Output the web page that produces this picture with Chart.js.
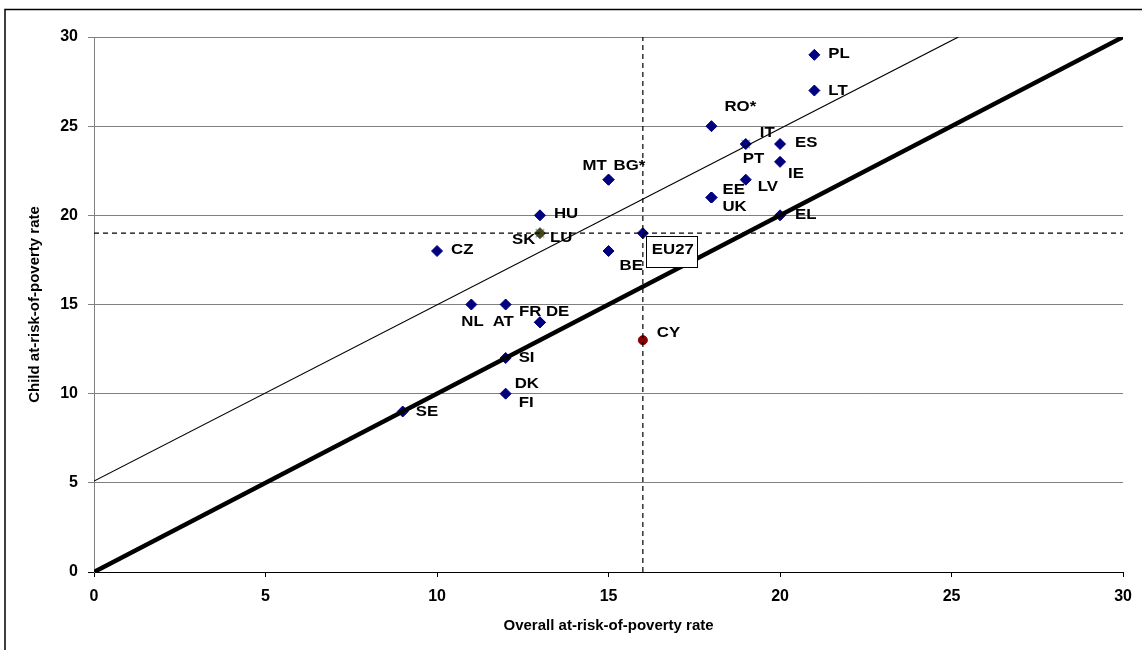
<!DOCTYPE html>
<html>
<head>
<meta charset="utf-8">
<script src="https://cdn.jsdelivr.net/npm/chart.js@4/dist/chart.umd.min.js"></script>
<style>
html,body{margin:0;padding:0;background:#fff;}
#wrap{width:1142px;height:650px;position:relative;}
</style>
</head>
<body>
<div id="wrap"><canvas id="c" width="1142" height="650"></canvas></div>
<script>
// ---------- DATA ----------
const countryCodes = ['PL','LT','RO*','IT','PT','ES','IE','LV','EE','UK','EL','MT','BG*','HU','SK','LU','CZ','BE','NL','AT','FR','DE','SI','DK','FI','SE','CY','EU27'];
const overallRate  = [21, 21, 18, 19, 19, 20, 20, 19, 18, 18, 20, 15, 15, 13, 13, 13, 10, 15, 11, 12, 13, 13, 12, 12, 12,  9, 16, 16];
const childRate    = [29, 27, 25, 24, 24, 24, 23, 22, 21, 21, 20, 22, 22, 20, 19, 19, 18, 18, 15, 15, 14, 14, 12, 10, 10,  9, 13, 19];

const xTickValues = [0, 5, 10, 15, 20, 25, 30];
const yTickValues = [0, 5, 10, 15, 20, 25, 30];

const parityLineX = [0, 30];
const parityLineY = [0, 30];
const upperLineX  = [0, 25.2];
const upperLineY  = [5.1, 30];
const euOverallLineX = [16, 16];
const euOverallLineY = [0, 30];
const euChildLineX = [0, 30];
const euChildLineY = [19, 19];

const xTitle = 'Overall at-risk-of-poverty rate';
const yTitle = 'Child at-risk-of-poverty rate';

// ---------- STYLE ----------
const NAVY = '#000080';
const markerGroups = [
  {codes:['FI'], style:'triangle', color:'#ffff00', radius:5, order:5},
  {codes:['PT','LU'], style:'crossRot', color:'#8fb4f0', radius:6, order:4},
  {codes:['SK'], style:'rectRot', color:'#45451a', radius:5.5, order:3},
  {codes:['CY'], style:'circle', color:'#8b0000', radius:4.5, order:2},
  {codes:['PL','LT','RO*','IT','ES','IE','LV','EE','UK','EL','MT','BG*','HU','CZ','BE','NL','AT','FR','DE','SI','DK','SE','EU27'], style:'rectRot', color:NAVY, radius:5.5, order:1}
];
// label offsets in px from the point: [dx (left edge), dy (middle)]
const labelOffsets = {
  'PL':[14,-1], 'LT':[14,0], 'RO*':[13,-19], 'IT':[14,-11], 'PT':[-3,15], 'ES':[15,-1],
  'IE':[8,12], 'LV':[12,7], 'EE':[11,-8], 'UK':[11,9], 'EL':[15,0], 'MT':[-26,-14],
  'BG*':[5,-14], 'HU':[14,-1], 'SK':[-28,7], 'LU':[10,5], 'CZ':[14,-1], 'BE':[11,15],
  'NL':[-10,17], 'AT':[-13,17], 'FR':[-21,-10], 'DE':[6,-10], 'SI':[13,0], 'DK':[9,-10],
  'FI':[13,9], 'SE':[13,0], 'CY':[14,-7]
};
const boxedLabel = {code:'EU27', box:[3,3,51,31], textCenter:[30,17]};

const FONT = "'Liberation Sans', Arial, sans-serif";

function pts(xs, ys){ return xs.map((x,i)=>({x:x, y:ys[i]})); }

const datasets = [];
datasets.push({label:'parity', data:pts(parityLineX, parityLineY), showLine:true, borderColor:'#000', borderWidth:4.5, pointRadius:0, order:0});
datasets.push({label:'upper', data:pts(upperLineX, upperLineY), showLine:true, borderColor:'#000', borderWidth:1.2, pointRadius:0, order:0});
datasets.push({label:'euV', data:pts(euOverallLineX, euOverallLineY), showLine:true, borderColor:'#000', borderWidth:1.2, borderDash:[5,4], pointRadius:0, order:0});
datasets.push({label:'euH', data:pts(euChildLineX, euChildLineY), showLine:true, borderColor:'#000', borderWidth:1.2, borderDash:[5,4], pointRadius:0, order:0});
markerGroups.forEach(g=>{
  const d = [];
  countryCodes.forEach((c,i)=>{ if(g.codes.includes(c)) d.push({x:overallRate[i], y:childRate[i], code:c}); });
  datasets.push({label:g.codes.join(','), data:d, showLine:false, pointStyle:g.style, pointRadius:g.radius,
    pointBackgroundColor:g.color, pointBorderColor:g.color, pointBorderWidth:g.style==='crossRot'?1.5:1, order:g.order});
});

const labelPlugin = {
  id:'pointLabels',
  afterDatasetsDraw(chart){
    const ctx = chart.ctx, xs = chart.scales.x, ys = chart.scales.y;
    ctx.save();
    ctx.fillStyle = '#000';
    ctx.font = 'bold 15px ' + FONT;
    ctx.textBaseline = 'middle';
    ctx.textAlign = 'left';
    countryCodes.forEach((c,i)=>{
      const off = labelOffsets[c];
      if(!off) return;
      const px = xs.getPixelForValue(overallRate[i]);
      const py = ys.getPixelForValue(childRate[i]);
      ctx.save();
      ctx.translate(px+off[0], py+off[1]);
      ctx.scale(1.12,1);
      ctx.fillText(c, 0, 0);
      ctx.restore();
    });
    const bi = countryCodes.indexOf(boxedLabel.code);
    const bx = xs.getPixelForValue(overallRate[bi]);
    const by = ys.getPixelForValue(childRate[bi]);
    const b = boxedLabel.box;
    ctx.fillStyle = '#fff';
    ctx.fillRect(Math.round(bx+b[0])+0.5, Math.round(by+b[1])+0.5, b[2], b[3]);
    ctx.strokeStyle = '#000'; ctx.lineWidth = 1;
    ctx.strokeRect(Math.round(bx+b[0])+0.5, Math.round(by+b[1])+0.5, b[2], b[3]);
    ctx.fillStyle = '#000';
    ctx.textAlign = 'center';
    ctx.save();
    ctx.translate(bx+boxedLabel.textCenter[0], by+boxedLabel.textCenter[1]);
    ctx.scale(1.12,1);
    ctx.fillText(boxedLabel.code, 0, 0);
    ctx.restore();
    ctx.restore();
  }
};

const framePlugin = {
  id:'frame',
  beforeDraw(chart){
    const ctx = chart.ctx;
    ctx.save(); ctx.fillStyle = '#fff'; ctx.fillRect(0,0,chart.width,chart.height); ctx.restore();
  },
  afterDraw(chart){
    const ctx = chart.ctx;
    ctx.save();
    ctx.strokeStyle = '#000'; ctx.lineWidth = 1.5;
    ctx.beginPath();
    ctx.moveTo(5, chart.height+2); ctx.lineTo(5, 9.5); ctx.lineTo(chart.width+2, 9.5);
    ctx.stroke();
    ctx.restore();
  }
};

new Chart(document.getElementById('c'), {
  type:'scatter',
  data:{datasets:datasets},
  plugins:[framePlugin, labelPlugin],
  options:{
    responsive:false,
    animation:false,
    devicePixelRatio:1,
    layout:{padding:{left:0, right:18, top:37, bottom:0}},
    plugins:{legend:{display:false}, tooltip:{enabled:false}},
    scales:{
      x:{
        type:'linear', min:0, max:30,
        afterBuildTicks(s){ s.ticks = xTickValues.map(v=>({value:v})); },
        afterFit(s){ s.height = 78; },
        grid:{drawOnChartArea:false, drawTicks:true, tickLength:5, color:'#000'},
        border:{color:'#000', width:1},
        ticks:{color:'#000', padding:10, maxRotation:0, font:{family:FONT, size:16, weight:'bold'}},
        title:{display:true, text:xTitle, color:'#000', padding:{top:0, bottom:15}, font:{family:FONT, size:15, weight:'bold'}}
      },
      y:{
        type:'linear', min:0, max:30,
        afterBuildTicks(s){ s.ticks = yTickValues.map(v=>({value:v})); },
        afterFit(s){ s.width = 94; },
        grid:{drawOnChartArea:true, drawTicks:true, tickLength:6,
              color:(c)=> (c.tick && c.tick.value===0) ? '#000' : '#808080', lineWidth:1},
        border:{color:'#808080', width:1},
        ticks:{color:'#000', padding:10, font:{family:FONT, size:16, weight:'bold'}},
        title:{display:true, text:yTitle, color:'#000', padding:{top:26, bottom:0}, font:{family:FONT, size:15, weight:'bold'}}
      }
    }
  }
});
</script>
</body>
</html>
